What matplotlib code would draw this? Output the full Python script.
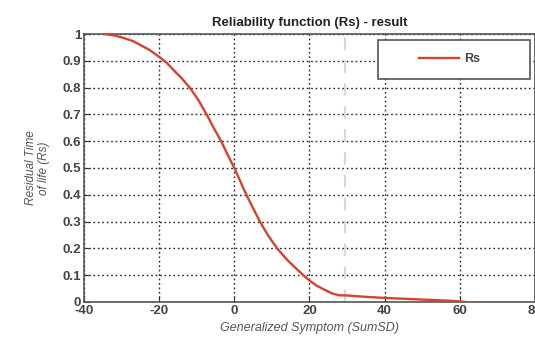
import matplotlib
matplotlib.use("Agg")
import matplotlib.pyplot as plt
from matplotlib.patches import Rectangle

plt.rcParams['font.family'] = ['Liberation Sans', 'DejaVu Sans']
plt.rcParams['axes.unicode_minus'] = False

# Data
x_vals = [-34.6, -32, -29.6, -27, -25, -22.5, -20, -18, -16.2, -14, -11.7, -9.5, -7.3,
          -5.5, -3.5, -1.8, 0, 1.6, 3.2, 5, 6.8, 9, 11.4, 14, 16.8, 18.5, 20, 22,
          24.2, 26, 27.8, 30.2, 35, 40, 45, 50, 55, 58, 60, 61.5]
rs_vals = [1.0, 0.995, 0.986, 0.974, 0.959, 0.94, 0.915, 0.893, 0.866, 0.835, 0.797, 0.752, 0.698,
           0.65, 0.6, 0.55, 0.5, 0.45, 0.4, 0.35, 0.3, 0.248, 0.2, 0.158, 0.12, 0.098, 0.08, 0.06,
           0.044, 0.032, 0.025, 0.024, 0.019, 0.015, 0.012, 0.009, 0.006, 0.004, 0.002, 0.0]
marker_x = 29.5
x_ticks = [-40, -20, 0, 20, 40, 60, 80]
y_ticks = [0, 0.1, 0.2, 0.3, 0.4, 0.5, 0.6, 0.7, 0.8, 0.9, 1]
y_tick_labels = ['0', '0.1', '0.2', '0.3', '0.4', '0.5', '0.6', '0.7', '0.8', '0.9', '1']

fig = plt.figure(figsize=(5.35, 3.37), dpi=100)
ax = fig.add_axes([0.157, 0.104, 0.843, 0.795])

ax.plot(x_vals, rs_vals, color='#d4432c', lw=1.7, label='Rs', zorder=3,
        solid_joinstyle='round')
ax.axvline(marker_x, color='#d8d8d8', lw=1.5, ls=(0, (6, 5)), zorder=2)

ax.set_xlim(-40, 80)
ax.set_ylim(0, 1)
ax.set_xticks(x_ticks)
ax.set_yticks(y_ticks)
ax.set_yticklabels(y_tick_labels)
ax.grid(True, color='#222222', ls=(0, (1.2, 2)), lw=1.0)
ax.tick_params(direction='in', length=4, labelsize=9.5, colors='#333333', pad=2)
for lab in ax.get_xticklabels() + ax.get_yticklabels():
    lab.set_fontweight('bold')
    lab.set_color('#444444')
for s in ax.spines.values():
    s.set_color('#555555')
    s.set_linewidth(1.2)

ax.set_title('Reliability function (Rs) - result', fontsize=9.5, fontweight='bold', color='#222222', pad=6)
ax.set_xlabel('Generalized Symptom (SumSD)', fontsize=9, style='italic', color='#555555', labelpad=4)
ax.set_ylabel('Residual Time\nof life (Rs)', fontsize=8.5, style='italic', color='#555555', labelpad=9, linespacing=1.1)

ax.add_patch(Rectangle((0.652, 0.832), 0.337, 0.146, transform=ax.transAxes,
                       facecolor='white', edgecolor='#555555', lw=1.2, zorder=5))
leg = ax.legend(loc='center', bbox_to_anchor=(0.81, 0.905), frameon=False,
                handlelength=3.2, fontsize=9, handletextpad=0.4)
leg.set_zorder(6)
for t in leg.get_texts():
    t.set_color('#444444')
    t.set_fontweight('bold')

fig.savefig('out.png', dpi=100, facecolor='white')
